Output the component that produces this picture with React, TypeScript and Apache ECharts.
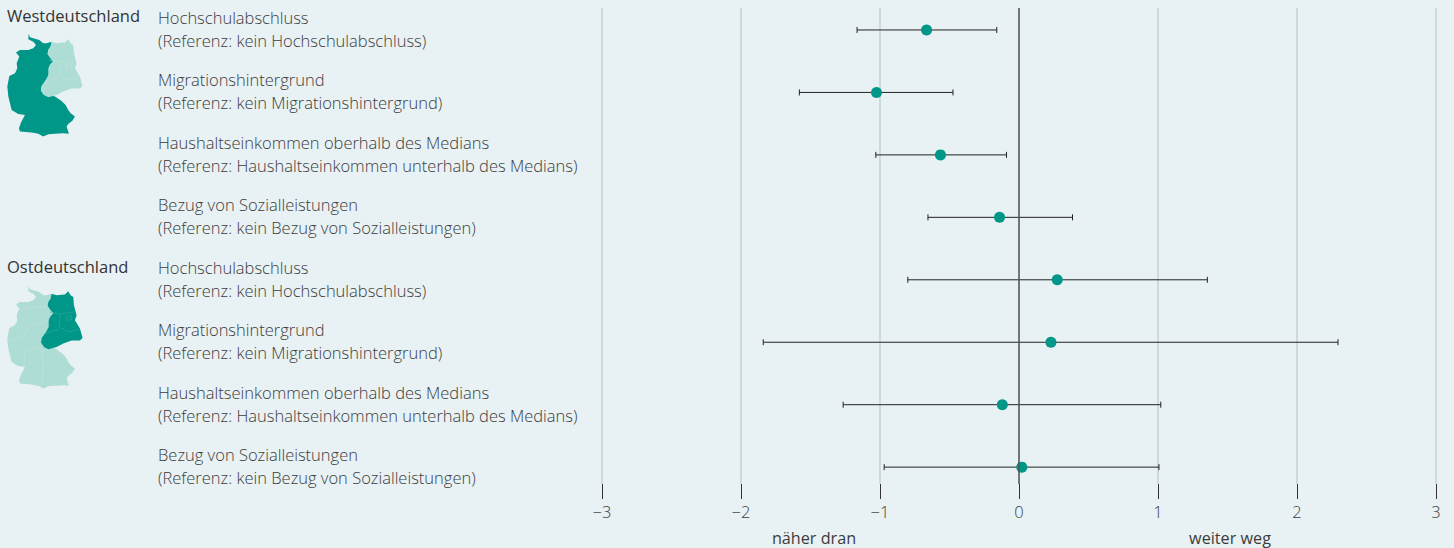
import React, { useEffect, useRef } from "react";
import * as echarts from "echarts";

const labelTop = ["Hochschulabschluss", "Migrationshintergrund", "Haushaltseinkommen oberhalb des Medians", "Bezug von Sozialleistungen", "Hochschulabschluss", "Migrationshintergrund", "Haushaltseinkommen oberhalb des Medians", "Bezug von Sozialleistungen"];
const labelBottom = ["(Referenz: kein Hochschulabschluss)", "(Referenz: kein Migrationshintergrund)", "(Referenz: Haushaltseinkommen unterhalb des Medians)", "(Referenz: kein Bezug von Sozialleistungen)", "(Referenz: kein Hochschulabschluss)", "(Referenz: kein Migrationshintergrund)", "(Referenz: Haushaltseinkommen unterhalb des Medians)", "(Referenz: kein Bezug von Sozialleistungen)"];
const estimate = [-0.665, -1.025, -0.565, -0.14, 0.275, 0.23, -0.12, 0.02];
const lower = [-1.165, -1.58, -1.03, -0.655, -0.8, -1.84, -1.265, -0.97];
const upper = [-0.16, -0.475, -0.09, 0.385, 1.355, 2.295, 1.02, 1.007];
const regions = ["Westdeutschland", "Ostdeutschland"];
const directions = ["näher dran", "weiter weg"];

const westOutline = [[86, 102], [90, 112], [100, 115], [118, 120], [130, 130], [140, 130], [155, 125], [152, 140], [145, 150], [143, 162], [152, 175], [160, 183], [150, 195], [146, 205], [146, 225], [138, 240], [125, 258], [123, 272], [132, 285], [150, 285], [165, 290], [185, 303], [197, 315], [205, 330], [212, 340], [225, 350], [218, 362], [205, 372], [200, 380], [207, 402], [190, 400], [165, 402], [145, 403], [130, 410], [115, 402], [95, 398], [60, 395], [57, 385], [63, 368], [75, 345], [55, 342], [35, 330], [30, 310], [25, 290], [22, 260], [28, 228], [45, 220], [52, 205], [50, 190], [58, 170], [48, 158], [60, 150], [85, 150], [100, 145], [108, 135], [100, 125], [85, 118]];
const eastOutline = [[205, 118], [212, 130], [220, 135], [222, 160], [230, 190], [225, 205], [240, 230], [248, 258], [240, 266], [215, 266], [190, 275], [170, 285], [145, 292], [132, 285], [123, 272], [125, 258], [138, 240], [146, 225], [146, 205], [150, 195], [160, 183], [152, 175], [143, 162], [145, 150], [152, 140], [155, 125], [170, 130], [195, 128]];
const eastBorders = [[[148, 180], [180, 186], [222, 180]], [[180, 186], [178, 225], [205, 240], [240, 232]], [[135, 245], [178, 232]], [[198, 195], [212, 190], [216, 203], [200, 205], [198, 195]]];
const westBorders = [[[30, 265], [70, 255], [90, 225], [145, 205]], [[72, 345], [75, 300], [125, 285]], [[125, 285], [130, 345], [125, 405]], [[55, 175], [100, 165], [145, 165]]];

const DARK = "#009688";
const LIGHT = "#aeddd5";
const FONT = "'Open Sans', sans-serif";

function germany(y: number, dark: "west" | "east") {
  const west = dark === "west";
  const line = (pts: number[][], color: string) => ({ type: "polyline", shape: { points: pts }, style: { stroke: color, fill: "none", lineWidth: 1.5 } });
  return {
    type: "group", x: 0, y, scaleX: 1 / 3, scaleY: 1 / 3, silent: true,
    children: [
      { type: "polygon", shape: { points: westOutline }, style: { fill: west ? DARK : LIGHT } },
      { type: "polygon", shape: { points: eastOutline }, style: { fill: west ? LIGHT : DARK } },
      ...eastBorders.map((b) => line(b, west ? "#c2e6df" : "#3fae9f")),
      ...(west ? [] : westBorders.map((b) => line(b, "#c2e6df"))),
    ],
  };
}

export default function App() {
  const ref = useRef<HTMLDivElement>(null);
  useEffect(() => {
    document.body.style.margin = "0";
    document.body.style.background = "#e8f1f3";
    const chart = echarts.init(ref.current!, undefined, { renderer: "svg" });
    chart.setOption({
      animation: false,
      backgroundColor: "#e8f1f3",
      grid: { left: 602, right: 18, top: 8, bottom: 64 },
      xAxis: {
        type: "value", min: -3, max: 3, interval: 1, position: "bottom",
        axisLine: { show: false, onZero: false },
        axisTick: { show: true, length: 15, lineStyle: { color: "#333", width: 1 } },
        splitLine: { show: true, lineStyle: { color: "#c5d0d5", width: 1.5 } },
        axisLabel: { margin: 19, color: "#3c3c3c", fontFamily: FONT, fontWeight: 300, fontSize: 16.5, formatter: (v: number) => (v < 0 ? "\u2212" + Math.abs(v) : String(v)) },
      },
      yAxis: { type: "value", inverse: true, min: -0.352, max: 7.27, show: false, splitLine: { show: false } },
      graphic: [
        { type: "text", x: 7, y: 15, style: { text: regions[0], fill: "#333", font: `400 16.5px ${FONT}`, textVerticalAlign: "middle" } },
        { type: "text", x: 7, y: 266, style: { text: regions[1], fill: "#333", font: `400 16.5px ${FONT}`, textVerticalAlign: "middle" } },
        { type: "text", x: 814, y: 538, style: { text: directions[0], fill: "#3c3c3c", font: `400 16.2px ${FONT}`, textAlign: "center", textVerticalAlign: "middle" } },
        { type: "text", x: 1230, y: 538, style: { text: directions[1], fill: "#3c3c3c", font: `400 16.2px ${FONT}`, textAlign: "center", textVerticalAlign: "middle" } },
        germany(0, "west"),
        germany(252, "east"),
      ],
      series: [
        {
          type: "custom",
          data: estimate.map((_, i) => [lower[i], upper[i], i]),
          encode: { x: [0, 1], y: 2 },
          clip: false,
          silent: true,
          renderItem: (params: any, api: any) => {
            const i = api.value(2);
            const a = api.coord([api.value(0), i]);
            const b = api.coord([api.value(1), i]);
            const s = { stroke: "#222", lineWidth: 1, fill: "none" };
            return {
              type: "group",
              children: [
                { type: "line", shape: { x1: a[0], y1: a[1], x2: b[0], y2: b[1] }, style: s },
                { type: "line", shape: { x1: a[0], y1: a[1] - 3, x2: a[0], y2: a[1] + 3 }, style: s },
                { type: "line", shape: { x1: b[0], y1: b[1] - 3, x2: b[0], y2: b[1] + 3 }, style: s },
                { type: "text", x: 158, y: a[1] - 12.5, style: { text: labelTop[i], fill: "#3c3c3c", font: `300 16.5px ${FONT}`, textVerticalAlign: "middle" } },
                { type: "text", x: 158, y: a[1] + 10.5, style: { text: labelBottom[i], fill: "#3c3c3c", font: `300 16.5px ${FONT}`, textVerticalAlign: "middle" } },
              ],
            };
          },
          z: 3,
        },
        {
          type: "scatter",
          data: estimate.map((v, i) => [v, i]),
          symbolSize: 11,
          itemStyle: { color: DARK, opacity: 1 },
          silent: true,
          z: 4,
          markLine: {
            silent: true, symbol: "none", label: { show: false },
            lineStyle: { color: "#555", width: 1.5, type: "solid" },
            data: [{ xAxis: 0 }],
          },
        },
      ],
    });
    return () => chart.dispose();
  }, []);
  return <div ref={ref} style={{ width: 1454, height: 548 }} />;
}
